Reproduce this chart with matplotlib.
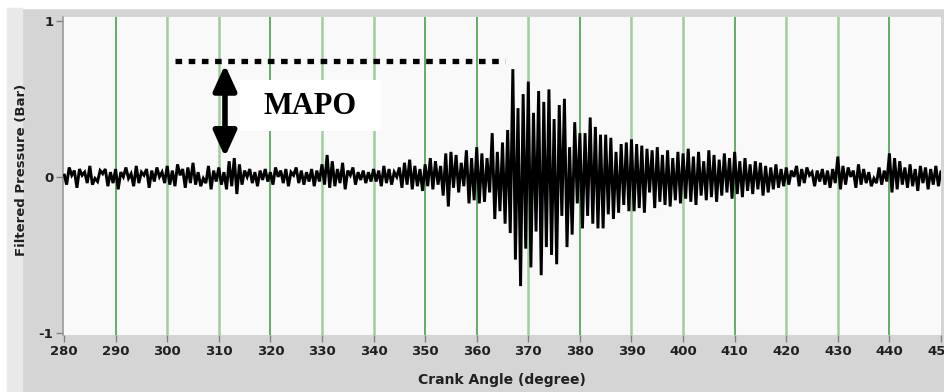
import matplotlib
matplotlib.use("Agg")
import matplotlib.pyplot as plt
import numpy as np
from matplotlib.patches import Rectangle, FancyArrowPatch

# filtered cylinder pressure, sampled every 0.5 deg from 280 to 451 deg
crank_angle = np.arange(280, 451.25, 0.5)

p_before = [
    0.02, -0.05, 0.06, 0.01, 0.04, -0.07, 0.05, 0.01, 0.03, -0.04, 0.07, -0.05, -0.01, -0.03, 0.04, 0.02, 0.05, -0.06, 0.03, -0.04,
    0.05, -0.08, 0.03, 0.00, 0.06, -0.01, 0.02, -0.06, 0.07, -0.04, 0.03, 0.01, 0.05, -0.07, 0.04, -0.03, 0.06, 0.00, 0.03, -0.04,
    0.07, -0.05, 0.04, -0.06, 0.08, 0.01, 0.05, -0.07, 0.06, -0.04, 0.09, -0.05, 0.03, -0.06, -0.01, -0.04, 0.07, -0.08, 0.04, -0.03,
    0.06, -0.05, 0.03, -0.08, 0.10, -0.06, 0.12, -0.11, 0.08, -0.05, 0.04, 0.00, 0.05, -0.04, 0.03, -0.06, 0.04, -0.02, 0.05, -0.03,
    0.03, -0.05, 0.06, 0.00, 0.04, -0.04, 0.05, -0.06, 0.03, 0.01, 0.06, -0.04, 0.04, -0.05, 0.03, -0.03, 0.05, -0.06, 0.04, -0.03,
    0.08, -0.05, 0.14, -0.07, 0.10, -0.06, 0.05, -0.04, 0.09, -0.08, 0.04, 0.01, 0.06, -0.05, 0.03, -0.02, 0.04, -0.04, 0.03, -0.03,
    0.05, -0.03, 0.04, -0.06, 0.07, -0.04, 0.05, -0.05, 0.03, 0.00, 0.06, -0.07, 0.09, -0.05, 0.11, -0.08, 0.07, -0.06, 0.05, -0.09,
]
p_burst = [
    0.08, -0.06, 0.12, -0.08, 0.10, -0.05, 0.07, -0.12, 0.15, -0.19, 0.16, -0.07, 0.14, -0.10, 0.09, -0.06, 0.17, -0.17, 0.12, -0.15,
    0.19, -0.17, 0.15, -0.16, 0.12, -0.10, 0.28, -0.27, 0.16, -0.22, 0.22, -0.30, 0.30, -0.36, 0.69, -0.53, 0.44, -0.70, 0.53, -0.46,
    0.61, -0.58, 0.41, -0.35, 0.55, -0.63, 0.48, -0.45, 0.56, -0.50, 0.37, -0.56, 0.46, -0.25, 0.50, -0.45, 0.19, -0.37, 0.35, -0.17,
    0.28, -0.33, 0.28, -0.25, 0.38, -0.30, 0.32, -0.33, 0.27, -0.33, 0.27, -0.24, 0.25, -0.27, 0.16, -0.23, 0.21, -0.18, 0.22, -0.22,
    0.24, -0.22, 0.21, -0.20, 0.20, -0.23, 0.18, -0.10, 0.17, -0.20, 0.19, -0.16, 0.14, -0.18, 0.17, -0.19, 0.12, -0.15, 0.16, -0.17,
]
p_after = [
    0.15, -0.14, 0.18, -0.16, 0.13, -0.18, 0.16, -0.12, 0.10, -0.15, 0.17, -0.13, 0.14, -0.16, 0.11, -0.12, 0.15, -0.10, 0.12, -0.14,
    0.16, -0.11, 0.10, -0.13, 0.12, -0.09, 0.08, -0.11, 0.10, -0.08, 0.09, -0.12, 0.07, -0.10, 0.06, -0.08, 0.08, -0.07, 0.05, -0.06,
    0.06, -0.05, 0.04, 0.00, 0.07, -0.06, 0.05, -0.04, 0.06, 0.01, 0.03, -0.06, 0.04, -0.03, 0.05, -0.05, 0.04, -0.07, 0.05, -0.04,
    0.13, -0.08, 0.07, -0.05, 0.06, 0.00, 0.04, -0.07, 0.08, -0.05, 0.05, -0.04, 0.03, -0.06, -0.01, -0.04, 0.06, -0.05, 0.04, -0.03,
    0.15, -0.10, 0.12, -0.08, 0.10, -0.05, 0.06, -0.07, 0.08, -0.06, 0.05, -0.09, 0.07, -0.04, 0.06, -0.08, 0.05, -0.05, 0.07, -0.06,
    0.04, -0.05, 0.03,
]
pressure = np.array(p_before + p_burst + p_after)

x_ticks = list(range(280, 451, 10))
y_ticks = [-1, 0, 1]
mapo_level = 0.745        # dotted max-amplitude line
mapo_start, mapo_end = 301.5, 365.5
arrow_x, arrow_top, arrow_bottom = 311.2, 0.735, 0.11
mapo_label = "MAPO"

# alternate crisp / blurred grid lines like the LabVIEW screen grab
dark_grid = {290, 320, 350, 360, 380, 410, 440}


def mapo_plot():
    fig = plt.figure(figsize=(9.44, 3.92), dpi=100, facecolor="#d5d5d5")
    # white margins + lighter strip on the left of the panel
    fig.patches.append(Rectangle((0, 384 / 392), 1, 8 / 392, transform=fig.transFigure,
                                 color="white", zorder=0))
    fig.patches.append(Rectangle((0, 0), 7 / 944, 384 / 392, transform=fig.transFigure,
                                 color="white", zorder=0))
    fig.patches.append(Rectangle((7 / 944, 0), 15 / 944, 384 / 392, transform=fig.transFigure,
                                 color="#e9e9e9", zorder=0))

    ax = fig.add_axes([63 / 944, 1 - 335 / 392, (941 - 63) / 944, (335 - 16.5) / 392])
    ax.set_facecolor("#f9f9f9")

    for xg in x_ticks[1:-1]:
        if xg in dark_grid:
            ax.axvline(xg, color="#3d973d", lw=1.1, zorder=1)
        else:
            ax.axvline(xg, color="#9ccf9c", lw=1.8, zorder=1)

    ax.plot(crank_angle, pressure, color="black", lw=2.1, zorder=3,
            solid_joinstyle="miter", solid_capstyle="butt")

    ax.plot([mapo_start, mapo_end], [mapo_level, mapo_level], color="black", lw=3.8,
            dashes=(1.25, 1.25), dash_capstyle="butt", zorder=4)
    arrow = FancyArrowPatch((arrow_x, arrow_bottom), (arrow_x, arrow_top),
                            arrowstyle="<|-|>,head_length=0.55,head_width=0.25",
                            mutation_scale=28, lw=4, color="black", zorder=4)
    ax.add_patch(arrow)
    ax.add_patch(Rectangle((314.1, 0.291), 27.3, 0.33, facecolor="white",
                           edgecolor="none", zorder=4))
    ax.text(327.7, 0.45, mapo_label, ha="center", va="center", fontsize=22,
            fontweight="bold", family="Liberation Serif", zorder=5)

    ax.set_xlim(279.8, 450.0)
    ax.set_ylim(-1.013, 1.027)
    ax.set_xticks(x_ticks)
    ax.set_yticks(y_ticks)
    ax.set_yticklabels([str(v) for v in y_ticks])
    for lab in ax.get_xticklabels() + ax.get_yticklabels():
        lab.set_fontweight("bold")
        lab.set_fontsize(9.5)
        lab.set_color("#202020")
    ax.tick_params(axis="both", direction="out", length=5, width=1, color="#808080", pad=2)

    for side in ["top", "right", "bottom"]:
        ax.spines[side].set_visible(False)
    ax.spines["left"].set_color("#9a9a9a")
    ax.spines["left"].set_linewidth(1.2)

    fig.text(502 / 944, 1 - 380 / 392, "Crank Angle (degree)", ha="center", va="center",
             fontsize=10, fontweight="bold", color="#202020")
    fig.text(22 / 944, 1 - 170 / 392, "Filtered Pressure (Bar)", ha="center", va="center",
             rotation=90, fontsize=9.5, fontweight="bold", color="#202020")

    fig.savefig("out.png", dpi=100, facecolor=fig.get_facecolor())


if __name__ == "__main__":
    mapo_plot()
